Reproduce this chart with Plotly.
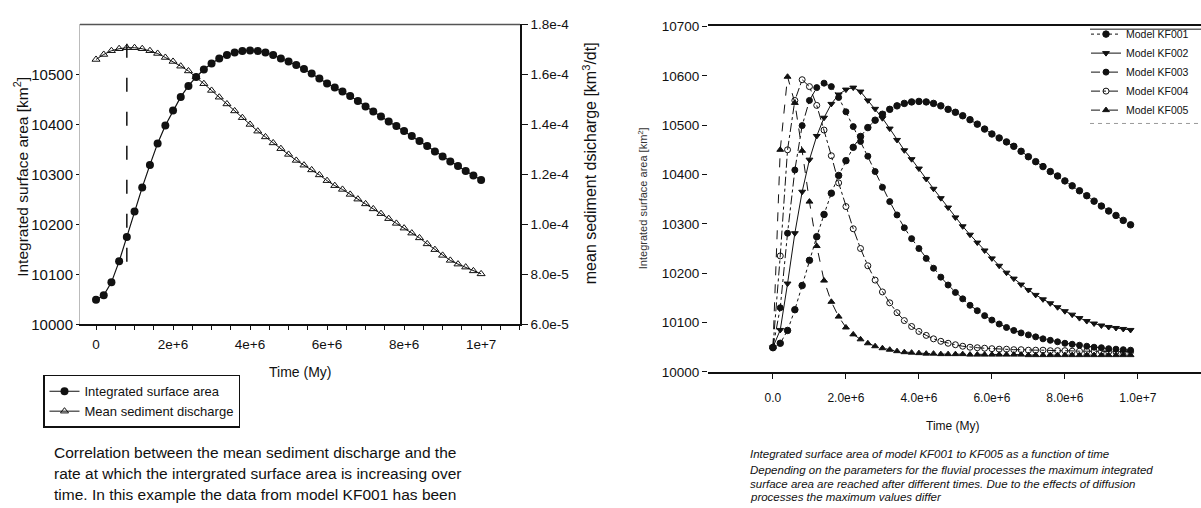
import plotly.graph_objects as go

W, H = 1201, 508

# ---------------- data ----------------
time_my = [0.0, 0.2, 0.4, 0.6, 0.8, 1.0, 1.2, 1.4, 1.6, 1.8,
           2.0, 2.2, 2.4, 2.6, 2.8, 3.0, 3.2, 3.4, 3.6, 3.8,
           4.0, 4.2, 4.4, 4.6, 4.8, 5.0, 5.2, 5.4, 5.6, 5.8,
           6.0, 6.2, 6.4, 6.6, 6.8, 7.0, 7.2, 7.4, 7.6, 7.8,
           8.0, 8.2, 8.4, 8.6, 8.8, 9.0, 9.2, 9.4, 9.6, 9.8,
           10.0]

area_kf001 = [10049, 10058, 10084, 10126, 10175, 10226, 10274, 10319, 10362, 10398,
              10428, 10455, 10477, 10495, 10510, 10522, 10532, 10539, 10544, 10547,
              10548, 10547, 10544, 10539, 10532, 10526, 10519, 10511, 10502, 10492,
              10482, 10474, 10466, 10457, 10447, 10436, 10426, 10416, 10406, 10397,
              10387, 10377, 10367, 10357, 10346, 10336, 10326, 10317, 10307, 10298,
              10289]

sediment_discharge = [1.660e-4, 1.680e-4, 1.695e-4, 1.703e-4, 1.707e-4, 1.707e-4, 1.703e-4, 1.695e-4, 1.684e-4, 1.668e-4,
                      1.652e-4, 1.633e-4, 1.614e-4, 1.590e-4, 1.563e-4, 1.536e-4, 1.509e-4, 1.482e-4, 1.454e-4, 1.427e-4,
                      1.400e-4, 1.373e-4, 1.350e-4, 1.326e-4, 1.303e-4, 1.280e-4, 1.256e-4, 1.237e-4, 1.218e-4, 1.198e-4,
                      1.175e-4, 1.155e-4, 1.140e-4, 1.120e-4, 1.101e-4, 1.082e-4, 1.062e-4, 1.043e-4, 1.023e-4, 1.004e-4,
                      0.985e-4, 0.965e-4, 0.946e-4, 0.922e-4, 0.899e-4, 0.876e-4, 0.856e-4, 0.841e-4, 0.829e-4, 0.814e-4,
                      0.802e-4]

peak_discharge_time_my = 0.8
peak_line_area = [10125, 10582]

area_kf002 = [10050, 10085, 10179, 10281, 10365, 10430, 10478, 10515, 10543, 10562,
              10572, 10576, 10568, 10550, 10533, 10514, 10493, 10470, 10449, 10431,
              10412, 10391, 10371, 10352, 10333, 10313, 10295, 10278, 10262, 10246,
              10230, 10215, 10201, 10189, 10177, 10166, 10156, 10147, 10139, 10131,
              10123, 10116, 10109, 10103, 10098, 10094, 10091, 10089, 10087, 10085]

area_kf003 = [10050, 10130, 10281, 10409, 10499, 10550, 10576, 10585, 10578, 10556,
              10527, 10497, 10467, 10437, 10406, 10374, 10345, 10318, 10292, 10270,
              10250, 10230, 10210, 10192, 10176, 10161, 10148, 10135, 10124, 10114,
              10105, 10097, 10090, 10084, 10079, 10075, 10071, 10067, 10064, 10061,
              10058, 10056, 10054, 10052, 10050, 10049, 10047, 10046, 10045, 10044]

area_kf004 = [10050, 10235, 10450, 10550, 10592, 10578, 10540, 10490, 10438, 10383,
              10335, 10290, 10250, 10215, 10186, 10162, 10140, 10120, 10104, 10092,
              10082, 10074, 10067, 10062, 10058, 10055, 10052, 10050, 10049, 10048,
              10047, 10046, 10046, 10045, 10045, 10044, 10044, 10044, 10043, 10043,
              10043, 10042, 10042, 10042, 10042, 10041, 10041, 10041, 10041, 10041]

area_kf005 = [10050, 10450, 10598, 10545, 10448, 10345, 10255, 10185, 10142, 10112,
              10090, 10076, 10066, 10058, 10052, 10048, 10045, 10042, 10040, 10039,
              10038, 10037, 10037, 10036, 10036, 10036, 10036, 10035, 10035, 10035,
              10035, 10035, 10035, 10035, 10035, 10034, 10034, 10034, 10034, 10034,
              10034, 10034, 10034, 10034, 10034, 10034, 10034, 10034, 10034, 10034]

left_x_tickvals = [0, 2e6, 4e6, 6e6, 8e6, 1e7]
left_x_ticktext = ["0", "2e+6", "4e+6", "6e+6", "8e+6", "1e+7"]
left_y_tickvals = [10000, 10100, 10200, 10300, 10400, 10500]
left_y_ticktext = ["10000", "10100", "10200", "10300", "10400", "10500"]
disch_tickvals = [6e-5, 8e-5, 1.0e-4, 1.2e-4, 1.4e-4, 1.6e-4, 1.8e-4]
disch_ticktext = ["6.0e-5", "8.0e-5", "1.0e-4", "1.2e-4", "1.4e-4", "1.6e-4", "1.8e-4"]
right_x_tickvals = [0, 2e6, 4e6, 6e6, 8e6, 1e7]
right_x_ticktext = ["0.0", "2.0e+6", "4.0e+6", "6.0e+6", "8.0e+6", "1.0e+7"]
right_y_tickvals = [10000, 10100, 10200, 10300, 10400, 10500, 10600, 10700]
right_y_ticktext = ["10000", "10100", "10200", "10300", "10400", "10500", "10600", "10700"]

left_caption = ["Correlation between the mean sediment discharge and the",
                "rate at which the intergrated surface area is increasing over",
                "time. In this example the data from model KF001 has been"]
right_caption = ["Integrated surface area of model KF001 to KF005 as a function of time",
                 "Depending on the parameters for the fluvial processes the maximum integrated",
                 "surface area are reached after different times. Due to the effects of diffusion",
                 "processes the maximum values differ"]

# ---------------- helpers ----------------
def px(x):
    return x / W

def py(y):
    return 1 - y / H

FONT = "Liberation Sans, Arial, sans-serif"
INK = "#111111"

t_left = [t * 1e6 for t in time_my]
t_right = [t * 1e6 for t in time_my[:50]]

fig = go.Figure()

# ---------------- left chart ----------------
fig.add_trace(go.Scatter(
    x=t_left, y=area_kf001, xaxis="x", yaxis="y", mode="lines+markers",
    name="Integrated surface area", legend="legend",
    line=dict(color=INK, width=1.2),
    marker=dict(symbol="circle", size=8, color=INK)))
fig.add_trace(go.Scatter(
    x=t_left, y=sediment_discharge, xaxis="x", yaxis="y2", mode="lines+markers",
    name="Mean sediment discharge", legend="legend",
    line=dict(color=INK, width=1),
    marker=dict(symbol="triangle-up-open", size=7, color=INK, line=dict(width=1, color=INK))))

# ---------------- right chart ----------------
styles = [
    ("Model KF001", area_kf001[:50], "dot", "circle", 6.5),
    ("Model KF002", area_kf002, "solid", "triangle-down", 6),
    ("Model KF003", area_kf003, "dashdot", "circle", 6),
    ("Model KF004", area_kf004, "dashdot", "circle-open", 6),
    ("Model KF005", area_kf005, "dash", "triangle-up", 6),
]
for name, vals, dash, sym, size in styles:
    fig.add_trace(go.Scatter(
        x=t_right, y=vals, xaxis="x2", yaxis="y3", mode="lines+markers",
        name=name, legend="legend2",
        line=dict(color=INK, width=1, dash=dash),
        marker=dict(symbol=sym, size=size, color=INK, line=dict(width=1, color=INK))))

axis_common = dict(showgrid=False, zeroline=False, tickcolor=INK)

fig.update_layout(
    width=W, height=H,
    margin=dict(l=0, r=0, t=0, b=0),
    paper_bgcolor="white", plot_bgcolor="white",
    font=dict(family=FONT, color=INK),
    xaxis=dict(domain=[px(80), px(520)], anchor="y", range=[-0.416e6, 11.01e6],
               showline=True, linecolor=INK, linewidth=1.5,
               ticks="outside", ticklen=4, tickmode="array",
               tickvals=left_x_tickvals, ticktext=left_x_ticktext,
               tickfont=dict(size=13.5), ticklabelstandoff=3,
               minor=dict(ticks="outside", dtick=5e5, tick0=0, ticklen=4, tickcolor=INK),
               **axis_common),
    yaxis=dict(domain=[py(327), py(18)], anchor="x", range=[10000, 10600],
               showline=True, linecolor="#bbbbbb", linewidth=1,
               ticks="outside", ticklen=3, tickmode="array",
               tickvals=left_y_tickvals, ticktext=left_y_ticktext,
               tickfont=dict(size=15), **axis_common),
    yaxis2=dict(overlaying="y", side="right", anchor="x", range=[6e-5, 1.8e-4],
                showline=True, linecolor=INK, linewidth=1.5,
                ticks="outside", ticklen=6, tickmode="array",
                tickvals=disch_tickvals, ticktext=disch_ticktext,
                tickfont=dict(size=13.5), **axis_common),
    xaxis2=dict(domain=[px(708), 1.0], anchor="y3", range=[-1.78e6, 11.73e6],
                showline=True, mirror=True, linecolor=INK, linewidth=1.5,
                ticks="outside", ticklen=5, tickmode="array",
                tickvals=right_x_tickvals, ticktext=right_x_ticktext,
                tickfont=dict(size=12), ticklabelstandoff=9, **axis_common),
    yaxis3=dict(domain=[py(376), py(20)], anchor="x2", range=[10000, 10700],
                showline=False, ticks="outside", ticklen=5, tickmode="array",
                tickvals=right_y_tickvals, ticktext=right_y_ticktext,
                tickfont=dict(size=13.5), **axis_common),
    legend=dict(x=px(43), y=py(379), xanchor="left", yanchor="top",
                bordercolor=INK, borderwidth=1.5, bgcolor="white",
                font=dict(size=13), tracegroupgap=0),
    legend2=dict(x=px(1086), y=py(13), xanchor="left", yanchor="top",
                 borderwidth=0, bgcolor="rgba(0,0,0,0)",
                 font=dict(size=10.5), tracegroupgap=0),
    showlegend=True,
)

# ---------------- decorations ----------------
fig.add_shape(type="line", xref="x domain", yref="y domain", x0=0, x1=1, y0=1, y1=1,
              line=dict(color="#555555", width=1.5))
fig.add_shape(type="line", xref="x", yref="y",
              x0=peak_discharge_time_my * 1e6, x1=peak_discharge_time_my * 1e6,
              y0=peak_line_area[0], y1=peak_line_area[1],
              line=dict(color=INK, width=1.5, dash="14px,20px"))
fig.add_shape(type="line", xref="paper", yref="paper", x0=px(1090), x1=1, y0=py(23), y1=py(23),
              line=dict(color="#666666", width=1.5))
fig.add_shape(type="line", xref="paper", yref="paper", x0=px(1090), x1=1, y0=py(120), y1=py(120),
              line=dict(color="#999999", width=1, dash="4px,4px"))

def note(x, y, text, size, angle=0, anchor="center", color=INK):
    fig.add_annotation(x=px(x), y=py(y), xref="paper", yref="paper", text=text,
                       showarrow=False, textangle=angle, xanchor=anchor, yanchor="middle",
                       font=dict(size=size, color=color, family=FONT))

note(21, 175, "Integrated surface area [km<sup>2</sup>]", 15.5, angle=-90)
note(590, 161, "mean sediment dsicharge [km<sup>3</sup>/dt]", 16, angle=-90)
note(300, 376, "Time (My)", 14)
for i, line in enumerate(left_caption):
    note(52, [459, 481, 502][i], line, 15.5, anchor="left")

note(643, 197, "Integrated surface area [km<sup>2</sup>]", 11, angle=-90, color="#333333")
note(953, 432, "Time (My)", 12)
for i, line in enumerate(right_caption):
    note(748, [461, 477, 492, 505][i], "<i>" + line + "</i>", 11.5, anchor="left")

fig.write_html("out.html")
